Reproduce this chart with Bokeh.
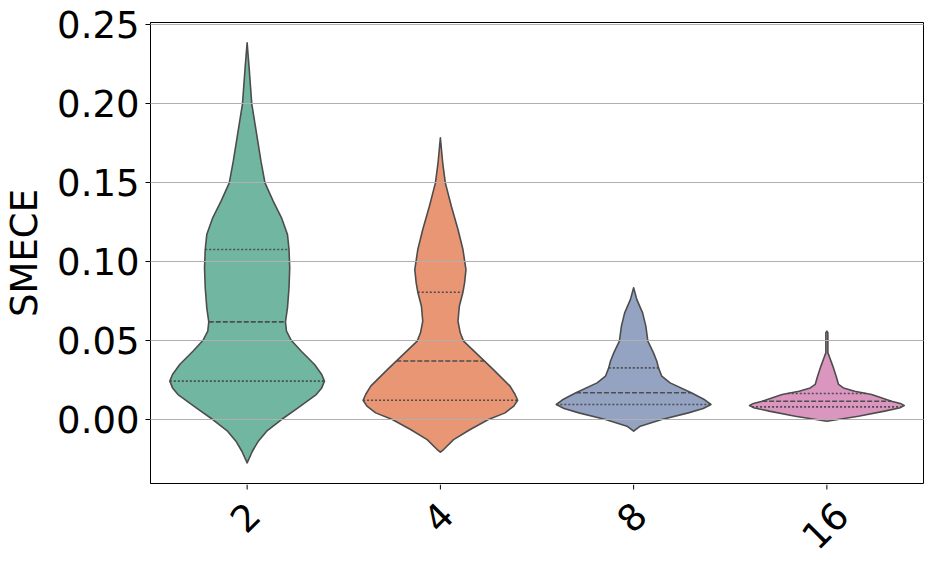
import math
import numpy as np
from bokeh.plotting import figure
from bokeh.layouts import column
from bokeh.models import FixedTicker, PrintfTickFormatter, Range1d, ColumnDataSource
from bokeh.core.properties import value
from bokeh.embed import file_html
from bokeh.resources import INLINE

# ---- data ----
categories = ["2", "4", "8", "16"]
colors = ["#71b6a1", "#e99675", "#95a3c3", "#db96c0"]

# violin profiles: SMECE value and relative half-width (1 = widest)
v2_y = [-0.0274, -0.0201, -0.0137, -0.0074, 0.0, 0.0074, 0.0158, 0.0200, 0.0243, 0.0285,
        0.0348, 0.0432, 0.0500, 0.0559, 0.0618, 0.0707, 0.0834, 0.0960, 0.1076, 0.1171,
        0.1277, 0.1382, 0.1498, 0.1635, 0.1804, 0.1998, 0.2226, 0.2384]
v2_w = [0.0, 0.068, 0.145, 0.253, 0.445, 0.658, 0.894, 0.965, 1.0, 0.965,
        0.872, 0.701, 0.573, 0.509, 0.496, 0.522, 0.542, 0.551, 0.542, 0.522,
        0.445, 0.337, 0.231, 0.179, 0.124, 0.060, 0.026, 0.0]

v4_y = [-0.0207, -0.0190, -0.0127, -0.0063, 0.0, 0.0042, 0.0085, 0.0122, 0.0160, 0.0211,
        0.0316, 0.0496, 0.0549, 0.0622, 0.0717, 0.0806, 0.0865, 0.0949, 0.1076, 0.1203,
        0.1350, 0.1498, 0.1625, 0.1783]
v4_w = [0.0, 0.042, 0.171, 0.386, 0.622, 0.837, 0.950, 1.0, 0.965, 0.901,
        0.686, 0.300, 0.257, 0.228, 0.245, 0.292, 0.313, 0.331, 0.292, 0.228,
        0.142, 0.064, 0.030, 0.0]

v8_y = [-0.0074, -0.0042, 0.0, 0.0042, 0.0070, 0.0095, 0.0125, 0.0169, 0.0232, 0.0274,
        0.0327, 0.0369, 0.0422, 0.0496, 0.0591, 0.0675, 0.0759, 0.0834]
v8_w = [0.0, 0.086, 0.364, 0.708, 0.900, 1.0, 0.920, 0.746, 0.472, 0.364,
        0.322, 0.300, 0.257, 0.184, 0.158, 0.116, 0.042, 0.0]

v16_y = [-0.0011, 0.0021, 0.0053, 0.0075, 0.0089, 0.0102, 0.0116, 0.0158, 0.0179, 0.0200,
         0.0222, 0.0274, 0.0338, 0.0401, 0.0422, 0.0550, 0.0559]
v16_w = [0.0, 0.408, 0.746, 0.950, 1.0, 0.950, 0.837, 0.579, 0.360, 0.215,
         0.151, 0.120, 0.077, 0.030, 0.013, 0.013, 0.0]

# quartiles (Q1, median, Q3)
q1 = [0.0243, 0.0122, 0.0095, 0.0080]
medians = [0.0618, 0.0370, 0.0169, 0.0116]
q3 = [0.1076, 0.0806, 0.0327, 0.0165]

y_ticks = [0.0, 0.05, 0.10, 0.15, 0.20, 0.25]

profiles = [(v2_y, v2_w), (v4_y, v4_w), (v8_y, v8_w), (v16_y, v16_w)]
HALF = 0.4

FONT = "DejaVu Sans"
FS = "37px"
EDGE = "#4d4d4d"

xr = Range1d(-0.5, 3.5)
p = figure(width=925, height=484, output_backend="svg", toolbar_location=None,
           x_range=xr, y_range=Range1d(-0.0405, 0.2513), x_axis_type=None,
           min_border_left=149, min_border_right=2, min_border_top=22, min_border_bottom=1)

# violins
xs_all, ys_all = [], []
for i, (yy, ww) in enumerate(profiles):
    yy = np.array(yy); ww = np.array(ww)
    xs = np.concatenate([i + HALF * ww, (i - HALF * ww)[::-1]])
    ys = np.concatenate([yy, yy[::-1]])
    xs_all.append(list(xs)); ys_all.append(list(ys))
src = ColumnDataSource(dict(xs=xs_all, ys=ys_all, color=colors))
p.patches("xs", "ys", source=src, fill_color="color", fill_alpha=1.0,
          line_color=EDGE, line_width=1.6, line_join="round")

# quartile lines
def seg_data(vals):
    x0, x1 = [], []
    for i, (yy, ww) in enumerate(profiles):
        w = float(np.interp(vals[i], yy, ww)) * HALF
        x0.append(i - w); x1.append(i + w)
    return dict(x0=x0, x1=x1, y=list(vals))

for vals, dash in [(q1, "2 2"), (q3, "2 2"), (medians, "5 2")]:
    d = seg_data(vals)
    p.segment(x0="x0", y0="y", x1="x1", y1="y", source=ColumnDataSource(d),
              line_color=EDGE, line_width=1.6, line_dash=dash)

# y axis
p.yaxis.ticker = FixedTicker(ticks=y_ticks)
p.yaxis.formatter = PrintfTickFormatter(format="%.2f")
p.yaxis.axis_label = "SMECE"
ax = p.yaxis
ax.major_label_text_font = FONT
ax.major_label_text_font_size = FS
ax.major_label_text_color = "black"
ax.axis_label_text_font = FONT
ax.axis_label_text_font_size = FS
ax.axis_label_text_font_style = "normal"
ax.axis_label_text_color = "black"
ax.minor_tick_line_color = None
ax.major_tick_out = 5
ax.major_tick_in = 0
ax.major_tick_line_color = "black"
ax.axis_line_color = "black"
ax.major_label_standoff = 6
ax.axis_label_standoff = 8

p.ygrid.grid_line_color = "#b0b0b0"
p.ygrid.grid_line_width = 1
p.ygrid.level = "guide"

p.outline_line_color = "black"
p.outline_line_width = 1
p.outline_line_alpha = 1
p.background_fill_color = "white"
p.border_fill_color = "white"

# category axis strip below the plot: ticks + 45-degree labels centred on each tick
q = figure(width=925, height=76, output_backend="svg", toolbar_location=None,
           x_range=xr, y_range=Range1d(-76, 0), x_axis_type=None, y_axis_type=None,
           min_border_left=149, min_border_right=2, min_border_top=0, min_border_bottom=0)
q.outline_line_color = None
q.grid.visible = False
q.background_fill_color = "white"
q.border_fill_color = "white"
pos = list(range(len(categories)))
q.segment(x0=pos, y0=[0] * len(pos), x1=pos, y1=[-5] * len(pos),
          line_color="black", line_width=1)
q.text(x=pos, y=[-(32.5 + 8.5 * (len(c) - 1)) for c in categories], text=categories,
       angle=math.pi / 4, text_align="center", text_baseline="middle",
       x_offset=-2, text_font=value(FONT), text_font_size=value(FS), text_color="black")

layout = column(p, q, spacing=0)
open("out.html", "w").write(file_html(layout, INLINE))
